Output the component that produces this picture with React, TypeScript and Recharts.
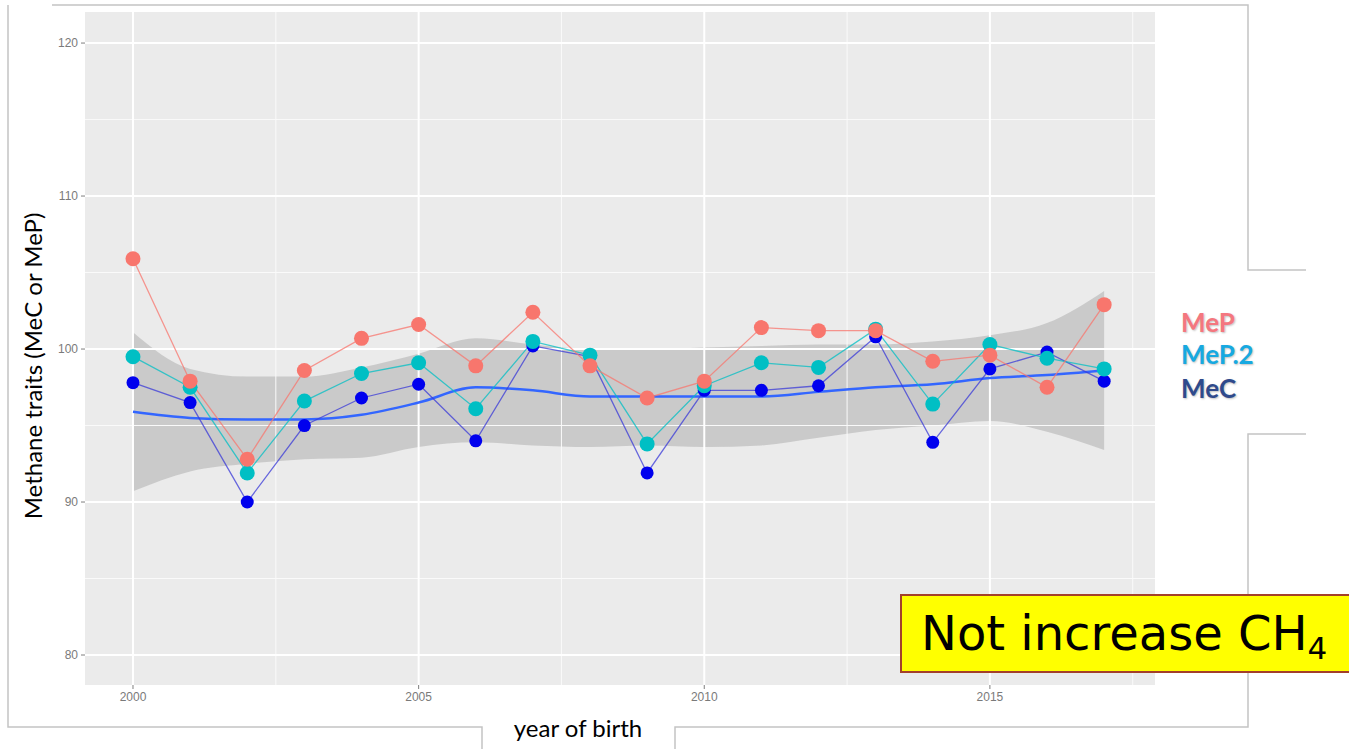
import React from "react";
import {
  ComposedChart,
  Line,
  Area,
  XAxis,
  YAxis,
  ReferenceArea,
  ReferenceLine,
} from "recharts";

const years = [2000, 2001, 2002, 2003, 2004, 2005, 2006, 2007, 2008, 2009, 2010, 2011, 2012, 2013, 2014, 2015, 2016, 2017];
const mep = [105.9, 97.9, 92.8, 98.6, 100.7, 101.6, 98.9, 102.4, 98.9, 96.8, 97.9, 101.4, 101.2, 101.2, 99.2, 99.6, 97.5, 102.9];
const mep2 = [99.5, 97.5, 91.9, 96.6, 98.4, 99.1, 96.1, 100.5, 99.6, 93.8, 97.6, 99.1, 98.8, 101.3, 96.4, 100.3, 99.4, 98.7];
const mec = [97.8, 96.5, 90.0, 95.0, 96.8, 97.7, 94.0, 100.2, 99.5, 91.9, 97.3, 97.3, 97.6, 100.8, 93.9, 98.7, 99.8, 97.9];
// loess fit and its confidence band
const smooth = [95.9, 95.5, 95.4, 95.4, 95.7, 96.5, 97.5, 97.3, 96.9, 96.9, 96.9, 96.9, 97.2, 97.5, 97.7, 98.1, 98.3, 98.6];
const ciLow = [90.7, 92.0, 92.5, 92.8, 92.9, 93.6, 93.9, 93.7, 93.6, 93.7, 93.6, 93.7, 94.2, 94.7, 95.0, 95.3, 94.6, 93.4];
const ciHigh = [101.1, 98.7, 98.2, 98.2, 98.8, 99.7, 100.7, 100.3, 100.0, 100.0, 100.1, 100.2, 100.3, 100.3, 100.5, 100.9, 101.7, 103.8];

const xTicks = [2000, 2005, 2010, 2015];
const xMinor = [2002.5, 2007.5, 2012.5, 2017.5];
const yTicks = [80, 90, 100, 110, 120];
const yMinor = [85, 95, 105, 115];

const X_DOMAIN: [number, number] = [1999.16, 2017.89];
const Y_DOMAIN: [number, number] = [78.04, 122.03];

const data = years.map((year, i) => ({
  year,
  mep: mep[i],
  mep2: mep2[i],
  mec: mec[i],
  smooth: smooth[i],
  ci: [ciLow[i], ciHigh[i]],
}));

const tickStyle = { fontFamily: "Liberation Sans, Arial, sans-serif", fontSize: 12, fill: "#7a7a7a" };
const FRAME = "#c4c4c4";

const Frame = () => (
  <svg width={1349} height={749} style={{ position: "absolute", left: 0, top: 0, pointerEvents: "none" }}>
    <g stroke={FRAME} strokeWidth={1.5} fill="none">
      <polyline points="8,5 8,727 482,727 482,749" />
      <polyline points="52,5 1248,5 1248,270 1306,270" />
      <polyline points="675,749 675,727 1248,727 1248,434 1306,434" />
    </g>
  </svg>
);

export default function App() {
  return (
    <div style={{ position: "fixed", left: 0, top: 0, width: 1349, height: 749, background: "#fff", overflow: "hidden" }}>
      <ComposedChart
        width={1349}
        height={749}
        data={data}
        margin={{ top: 12, right: 194, bottom: 34, left: 40 }}
      >
        <XAxis
          type="number"
          dataKey="year"
          domain={X_DOMAIN}
          ticks={xTicks}
          allowDataOverflow
          height={30}
          axisLine={false}
          tickSize={4}
          tickLine={{ stroke: "#7f7f7f" }}
          tickMargin={3}
          tick={tickStyle}
        />
        <YAxis
          type="number"
          domain={Y_DOMAIN}
          ticks={yTicks}
          allowDataOverflow
          width={45}
          axisLine={false}
          tickSize={4}
          tickLine={{ stroke: "#7f7f7f" }}
          tickMargin={3}
          tick={tickStyle}
        />
        <ReferenceArea x1={X_DOMAIN[0]} x2={X_DOMAIN[1]} y1={Y_DOMAIN[0]} y2={Y_DOMAIN[1]} fill="#ebebeb" fillOpacity={1} stroke="none" ifOverflow="hidden" />
        {yMinor.map((v) => (
          <ReferenceLine key={`ym${v}`} y={v} stroke="#fafafa" strokeWidth={1} />
        ))}
        {xMinor.map((v) => (
          <ReferenceLine key={`xm${v}`} x={v} stroke="#fafafa" strokeWidth={1} />
        ))}
        {yTicks.map((v) => (
          <ReferenceLine key={`y${v}`} y={v} stroke="#ffffff" strokeWidth={2} />
        ))}
        {xTicks.map((v) => (
          <ReferenceLine key={`x${v}`} x={v} stroke="#ffffff" strokeWidth={2} />
        ))}
        <Area
          dataKey="ci"
          type="monotone"
          stroke="none"
          fill="#999999"
          fillOpacity={0.4}
          isAnimationActive={false}
        />
        <Line
          dataKey="smooth"
          type="monotone"
          stroke="#3366ff"
          strokeWidth={2.5}
          dot={false}
          isAnimationActive={false}
        />
        <Line
          dataKey="mec"
          type="linear"
          stroke="#3a3ad8"
          strokeOpacity={0.75}
          strokeWidth={1.3}
          dot={{ r: 6.5, fill: "#0000ee", stroke: "none" }}
          isAnimationActive={false}
        />
        <Line
          dataKey="mep2"
          type="linear"
          stroke="#00bfc4"
          strokeOpacity={0.75}
          strokeWidth={1.3}
          dot={{ r: 7.5, fill: "#00bfc4", stroke: "none" }}
          isAnimationActive={false}
        />
        <Line
          dataKey="mep"
          type="linear"
          stroke="#f8766d"
          strokeOpacity={0.75}
          strokeWidth={1.3}
          dot={{ r: 7.5, fill: "#f8766d", stroke: "none" }}
          isAnimationActive={false}
        />
      </ComposedChart>

      <Frame />

      <div
        style={{
          position: "absolute",
          left: 32,
          top: 366,
          transform: "translate(-50%, -50%) rotate(-90deg)",
          whiteSpace: "nowrap",
          fontFamily: "Lato, sans-serif",
          fontSize: 24,
          color: "#000",
        }}
      >
        Methane traits (MeC or MeP)
      </div>

      <div
        style={{
          position: "absolute",
          left: 578,
          top: 727,
          transform: "translate(-50%, -50%)",
          whiteSpace: "nowrap",
          fontFamily: "Lato, sans-serif",
          fontSize: 24,
          color: "#000",
        }}
      >
        year of birth
      </div>

      {[
        { label: "MeP", color: "#f4777f", y: 322 },
        { label: "MeP.2", color: "#17a9e1", y: 354 },
        { label: "MeC", color: "#2f4a8c", y: 388 },
      ].map((d) => (
        <div
          key={d.label}
          style={{
            position: "absolute",
            left: 1181,
            top: d.y,
            transform: "translateY(-50%)",
            fontFamily: "Lato, sans-serif",
            fontWeight: 700,
            fontSize: 26,
            color: d.color,
            textShadow: "1px 1px 2px rgba(0,0,0,0.25)",
            whiteSpace: "nowrap",
          }}
        >
          {d.label}
        </div>
      ))}

      <div
        style={{
          position: "absolute",
          left: 900,
          top: 594,
          width: 460,
          height: 79,
          background: "#ffff00",
          border: "2px solid #a3402a",
          boxSizing: "border-box",
        }}
      >
        <div
          style={{
            position: "absolute",
            left: 19,
            top: 7,
            fontFamily: "DejaVu Sans, Verdana, sans-serif",
            fontSize: 48,
            color: "#000",
            whiteSpace: "nowrap",
            lineHeight: "60px",
          }}
        >
          Not increase CH<sub style={{ fontSize: 31, verticalAlign: "-9px" }}>4</sub>
        </div>
      </div>
    </div>
  );
}
